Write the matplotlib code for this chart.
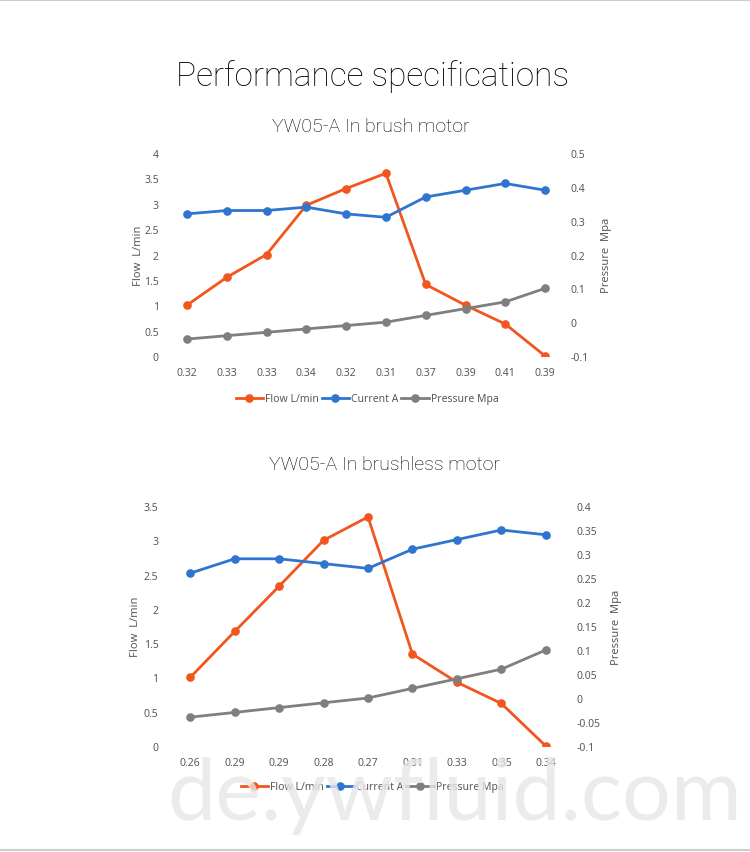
import matplotlib.pyplot as plt
from matplotlib.lines import Line2D

# ==================== 数据 ====================
# 有刷电机 (x 轴标签 = 电流值)
brush_cats = ["0.32", "0.33", "0.33", "0.34", "0.32", "0.31", "0.37", "0.39", "0.41", "0.39"]
brush_flow = [1.0, 1.55, 2.0, 2.97, 3.3, 3.6, 1.41, 1.0, 0.63, 0.0]
brush_current = [0.32, 0.33, 0.33, 0.34, 0.32, 0.31, 0.37, 0.39, 0.41, 0.39]
brush_pressure = [-0.05, -0.04, -0.03, -0.02, -0.01, 0.0, 0.02, 0.04, 0.06, 0.10]

# 无刷电机
bl_cats = ["0.26", "0.29", "0.29", "0.28", "0.27", "0.31", "0.33", "0.35", "0.34"]
bl_flow = [1.0, 1.67, 2.33, 3.0, 3.34, 1.34, 0.93, 0.62, 0.0]
bl_current = [0.26, 0.29, 0.29, 0.28, 0.27, 0.31, 0.33, 0.35, 0.34]
bl_pressure = [-0.04, -0.03, -0.02, -0.01, 0.0, 0.02, 0.04, 0.06, 0.10]

brush_left_ticks = [0, 0.5, 1, 1.5, 2, 2.5, 3, 3.5, 4]
brush_right_ticks = [-0.1, 0, 0.1, 0.2, 0.3, 0.4, 0.5]
bl_left_ticks = [0, 0.5, 1, 1.5, 2, 2.5, 3, 3.5]
bl_right_ticks = [-0.1, -0.05, 0, 0.05, 0.1, 0.15, 0.2, 0.25, 0.3, 0.35, 0.4]

C_FLOW = "#F0561D"
C_CUR = "#2F74CF"
C_PRES = "#7F7F7F"
C_TXT = "#595959"
TICK_FONT = ["Noto Sans", "DejaVu Sans"]
TITLE_FONT = ["Roboto", "Lato", "DejaVu Sans"]
W, H = 750, 853


def fmt(v):
    return f"{v:g}"


def draw_panel(fig, px_box, cats, flow, cur, pres, lticks, rticks,
               ylab_x, rlab_x, lpad, rpad):
    """px_box = (left, top, right, bottom)，单位像素"""
    l, t, r, b = px_box
    ax = fig.add_axes([l / W, 1 - b / H, (r - l) / W, (b - t) / H])
    x = list(range(len(cats)))
    kw = dict(lw=2.0, marker="o", ms=5.2)
    ax.plot(x, flow, color=C_FLOW, label="Flow L/min", zorder=3, **kw)
    ax2 = ax.twinx()
    ax2.plot(x, cur, color=C_CUR, label="Current A", zorder=3, **kw)
    ax2.plot(x, pres, color=C_PRES, label="Pressure Mpa", zorder=3, **kw)

    ax.set_xlim(-0.5, len(cats) - 0.5)
    ax.set_ylim(lticks[0], lticks[-1])
    ax2.set_ylim(rticks[0], rticks[-1])
    ax.set_xticks(x)
    ax.set_xticklabels(cats)
    ax.set_yticks(lticks)
    ax.set_yticklabels([fmt(v) for v in lticks])
    ax2.set_yticks(rticks)
    ax2.set_yticklabels([fmt(v) for v in rticks])

    for a in (ax, ax2):
        for s in a.spines.values():
            s.set_visible(False)
    ax.tick_params(axis="x", length=0, pad=8, labelsize=7.5, labelcolor=C_TXT)
    ax.tick_params(axis="y", length=0, pad=lpad, labelsize=7.5, labelcolor=C_TXT)
    ax2.tick_params(axis="y", length=0, pad=rpad, labelsize=7.5, labelcolor=C_TXT)
    for lab in ax.get_xticklabels() + ax.get_yticklabels() + ax2.get_yticklabels():
        lab.set_family(TICK_FONT)

    ax.set_ylabel("Flow  L/min", color=C_TXT, fontsize=8, family=TICK_FONT)
    ax.yaxis.set_label_coords((ylab_x - l) / (r - l), 0.5)
    ax2.set_ylabel("Pressure  Mpa", color=C_TXT, fontsize=8, family=TICK_FONT,
                   rotation=90)
    ax2.yaxis.set_label_coords((rlab_x - l) / (r - l), 0.5)

    h1, l1 = ax.get_legend_handles_labels()
    h2, l2 = ax2.get_legend_handles_labels()
    return ax, h1 + h2, l1 + l2


fig = plt.figure(figsize=(W / 100, H / 100), dpi=100)
fig.patch.set_facecolor("white")

# 标题
fig.text(373 / W, 1 - 77 / H, "Performance specifications", ha="center", va="center",
         fontsize=24, family=TITLE_FONT, fontweight="light", color="#000000")
fig.text(371 / W, 1 - 127 / H, "YW05-A In brush motor", ha="center", va="center",
         fontsize=14, family=TITLE_FONT, fontweight="light", color="#000000")
fig.text(384 / W, 1 - 465 / H, "YW05-A In brushless motor", ha="center", va="center",
         fontsize=14, family=TITLE_FONT, fontweight="light", color="#000000")

# 上图：有刷电机
ax, hs, ls = draw_panel(fig, (167, 154, 565, 357), brush_cats, brush_flow, brush_current,
                        brush_pressure, brush_left_ticks, brush_right_ticks, 144, 601, 6, 4)
fig.legend(hs, ls, loc="center", bbox_to_anchor=(367 / W, 1 - 400 / H), ncol=3,
           frameon=False, labelcolor=C_TXT, handlelength=2.6,
           handletextpad=0.2, columnspacing=0.3, prop={"family": TICK_FONT, "size": 7.5})

# 下图：无刷电机
ax, hs, ls = draw_panel(fig, (168, 507, 568, 747), bl_cats, bl_flow, bl_current,
                        bl_pressure, bl_left_ticks, bl_right_ticks, 141, 611, 7, 6)
fig.legend(hs, ls, loc="center", bbox_to_anchor=(372 / W, 1 - 788 / H), ncol=3,
           frameon=False, labelcolor=C_TXT, handlelength=2.6,
           handletextpad=0.2, columnspacing=0.3, prop={"family": TICK_FONT, "size": 7.5})

# 水印
fig.text(455 / W, 1 - 820 / H, "de.ywfluid.com", ha="center", va="baseline",
         fontsize=62, family=["Lato", "DejaVu Sans"], color="#e6e6e6", alpha=0.8, zorder=10)

# 上下边框线
fig.add_artist(Line2D([0, 1], [1 - 1 / H, 1 - 1 / H], color="#cccccc", lw=1.5))
fig.add_artist(Line2D([0, 1], [1 - 851 / H, 1 - 851 / H], color="#cccccc", lw=1.5))

fig.savefig("out.png", dpi=100, facecolor="white")
